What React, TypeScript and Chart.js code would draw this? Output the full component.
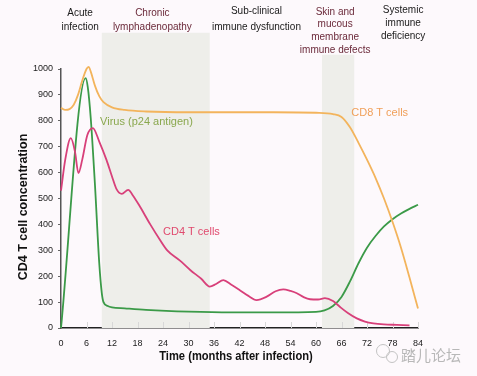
import React, { useEffect, useRef } from "react";
import { Chart, registerables } from "chart.js";

Chart.register(...registerables);

const xTicks = [0, 6, 12, 18, 24, 30, 36, 42, 48, 54, 60, 66, 72, 78, 84];
const yTicks = [0, 100, 200, 300, 400, 500, 600, 700, 800, 900, 1000];

const cd8Months = [0, 1, 2, 3, 4, 5, 6, 6.5, 7, 8, 9, 10, 12, 15, 20, 30, 40, 50, 60, 64, 66, 68, 70, 72, 74, 76, 78, 80, 82, 84];
const cd8Values = [850, 842, 845, 862, 900, 955, 1000, 1008, 990, 935, 895, 872, 852, 842, 836, 833, 833, 833, 831, 826, 815, 775, 715, 650, 580, 500, 410, 310, 195, 75];

const virusMonths = [0, 5.8, 6.3, 7, 8, 9, 9.6, 10, 11, 12, 15, 20, 30, 40, 50, 60, 62, 64, 66, 68, 70, 72, 74, 76, 78, 80, 82, 84];
const virusValues = [0, 965, 930, 810, 550, 250, 135, 100, 85, 80, 76, 70, 63, 60, 60, 62, 68, 85, 120, 180, 250, 310, 355, 392, 420, 442, 460, 476];

const cd4Months = [0, 1, 2.3, 3.3, 4.1, 5, 6.2, 7.5, 9, 10.7, 12, 13.1, 14.3, 15.8, 17, 18.6, 21, 23.3, 25, 28, 30.4, 33, 35, 36.5, 38.2, 40, 42, 44, 46, 48.4, 50.5, 52.3, 54, 55.5, 57, 58.6, 60.5, 62.1, 64, 65.6, 67.5, 69.6, 71.5, 73.5, 76, 79, 82];
const cd4Values = [530, 650, 733, 680, 598, 650, 745, 772, 720, 649, 585, 535, 518, 533, 510, 468, 400, 340, 300, 260, 224, 190, 160, 170, 185, 168, 147, 125, 108, 121, 142, 149, 143, 134, 120, 111, 110, 115, 104, 82, 58, 37, 25, 18, 14, 12, 10];

const shadeBands = [
  { from: 9.6, to: 35, top: 1140 },
  { from: 61.4, to: 69, top: 1055 },
];

const phaseLabels = [
  { x: 4.5, lines: ["Acute", "infection"], color: "#1a1a1a", top: 1216, gap: 14 },
  { x: 21.5, lines: ["Chronic", "lymphadenopathy"], color: "#6b2a3a", top: 1216, gap: 14 },
  { x: 46, lines: ["Sub-clinical", "immune dysfunction"], color: "#1a1a1a", top: 1224, gap: 16 },
  { x: 64.5, lines: ["Skin and", "mucous", "membrane", "immune defects"], color: "#6b2a3a", top: 1220, gap: 12.7 },
  { x: 80.5, lines: ["Systemic", "immune", "deficiency"], color: "#1a1a1a", top: 1228, gap: 13 },
];

const seriesLabels = [
  { text: "Virus (p24 antigen)", x: 9.2, y: 797, color: "#8aa84e" },
  { text: "CD8 T cells", x: 68.3, y: 832, color: "#f0a05a" },
  { text: "CD4 T cells", x: 24.0, y: 370, color: "#e04a6e" },
];

const toPoints = (xs: number[], ys: number[]) => xs.map((x, i) => ({ x, y: ys[i] }));

const overlayPlugin = {
  id: "overlay",
  beforeDraw(chart: any) {
    const { ctx, width, height } = chart;
    ctx.save();
    ctx.fillStyle = "#fdf9fc";
    ctx.fillRect(0, 0, width, height);
    ctx.restore();
  },
  beforeDatasetsDraw(chart: any) {
    const { ctx, scales, chartArea } = chart;
    const xs = scales.x;
    const ys = scales.y;
    ctx.save();
    ctx.fillStyle = "#eeeeea";
    shadeBands.forEach((b) => {
      const x1 = xs.getPixelForValue(b.from);
      const x2 = xs.getPixelForValue(b.to);
      const yt = ys.getPixelForValue(b.top);
      ctx.fillRect(x1, yt, x2 - x1, chartArea.bottom - yt);
    });
    ctx.strokeStyle = "#d8d8d8";
    ctx.lineWidth = 1;
    xTicks.forEach((t) => {
      const px = Math.round(xs.getPixelForValue(t)) + 0.5;
      ctx.beginPath();
      ctx.moveTo(px, chartArea.bottom);
      ctx.lineTo(px, chartArea.bottom - 6);
      ctx.stroke();
    });
    ctx.restore();
  },
  afterDraw(chart: any) {
    const { ctx, scales } = chart;
    const xs = scales.x;
    const ys = scales.y;
    ctx.save();
    ctx.font = "10px 'Liberation Sans', Arial, sans-serif";
    ctx.textAlign = "center";
    ctx.textBaseline = "middle";
    phaseLabels.forEach((p) => {
      ctx.fillStyle = p.color;
      const cx = xs.getPixelForValue(p.x);
      const y0 = ys.getPixelForValue(p.top);
      p.lines.forEach((l, i) => {
        ctx.fillText(l, cx, y0 + i * p.gap);
      });
    });
    ctx.font = "11px 'Liberation Sans', Arial, sans-serif";
    ctx.textAlign = "left";
    seriesLabels.forEach((s) => {
      ctx.fillStyle = s.color;
      ctx.fillText(s.text, xs.getPixelForValue(s.x), ys.getPixelForValue(s.y));
    });
    ctx.fillStyle = "#111";
    ctx.font = "bold 12px 'Liberation Sans', Arial, sans-serif";
    ctx.textAlign = "center";
    ctx.save();
    ctx.translate(236, 357);
    ctx.scale(0.93, 1);
    ctx.fillText("Time (months after infection)", 0, 0);
    ctx.restore();
    ctx.save();
    ctx.translate(24, 207);
    ctx.rotate(-Math.PI / 2);
    ctx.font = "bold 12.5px 'Liberation Sans', Arial, sans-serif";
    ctx.fillText("CD4 T cell concentration", 0, 0);
    ctx.restore();
    ctx.fillStyle = "#b8b8b8";
    ctx.font = "15px 'Noto Sans CJK SC', sans-serif";
    ctx.textAlign = "left";
    ctx.fillText("踏儿论坛", 401, 355);
    ctx.strokeStyle = "#c4c4c4";
    ctx.lineWidth = 1;
    ctx.beginPath();
    ctx.arc(383, 351, 6.5, 0, Math.PI * 2);
    ctx.stroke();
    ctx.beginPath();
    ctx.arc(392, 357, 5.5, 0, Math.PI * 2);
    ctx.stroke();
    ctx.restore();
  },
};

export default function App() {
  const ref = useRef<HTMLCanvasElement | null>(null);
  useEffect(() => {
    document.body.style.margin = "0";
    if (!ref.current) return;
    const chart = new Chart(ref.current, {
      type: "line",
      data: {
        datasets: [
          {
            label: "CD8 T cells",
            data: toPoints(cd8Months, cd8Values),
            borderColor: "#f3b45c",
            borderWidth: 1.8,
            pointRadius: 0,
            cubicInterpolationMode: "monotone",
            clip: false,
          },
          {
            label: "CD4 T cells",
            data: toPoints(cd4Months, cd4Values),
            borderColor: "#d8407a",
            borderWidth: 1.8,
            pointRadius: 0,
            cubicInterpolationMode: "monotone",
            clip: false,
          },
          {
            label: "Virus (p24 antigen)",
            data: toPoints(virusMonths, virusValues),
            borderColor: "#3b9a48",
            borderWidth: 1.8,
            pointRadius: 0,
            cubicInterpolationMode: "monotone",
            clip: false,
          },
        ] as any,
      },
      options: {
        animation: false,
        responsive: false,
        layout: { padding: { left: 0, right: 59, top: 69, bottom: 0 } },
        plugins: { legend: { display: false }, tooltip: { enabled: false } },
        scales: {
          x: {
            type: "linear",
            min: 0,
            max: 84,
            afterFit: (s: any) => { s.height = 48; },
            afterBuildTicks: (s: any) => { s.ticks = xTicks.map((v) => ({ value: v })); },
            grid: { display: false, drawTicks: false },
            border: { display: true, color: "#222", width: 1.5 },
            ticks: { color: "#222", font: { size: 9, family: "'Liberation Sans', Arial, sans-serif" }, padding: 10, maxRotation: 0, autoSkip: false, callback: (v: any) => String(v) },
          },
          y: {
            type: "linear",
            min: 0,
            max: 1000,
            afterFit: (s: any) => { s.width = 61; },
            afterBuildTicks: (s: any) => { s.ticks = yTicks.map((v) => ({ value: v })); },
            grid: { display: true, drawOnChartArea: false, drawTicks: true, tickLength: 3, color: "#666" },
            border: { display: true, color: "#555", width: 1.5 },
            ticks: { color: "#222", font: { size: 9, family: "'Liberation Sans', Arial, sans-serif" }, padding: 5, callback: (v: any) => String(v) },
          },
        },
      },
      plugins: [overlayPlugin],
    });
    return () => chart.destroy();
  }, []);
  return (
    <div style={{ width: 477, height: 376 }}>
      <canvas ref={ref} width={477} height={376} style={{ display: "block" }} />
    </div>
  );
}
